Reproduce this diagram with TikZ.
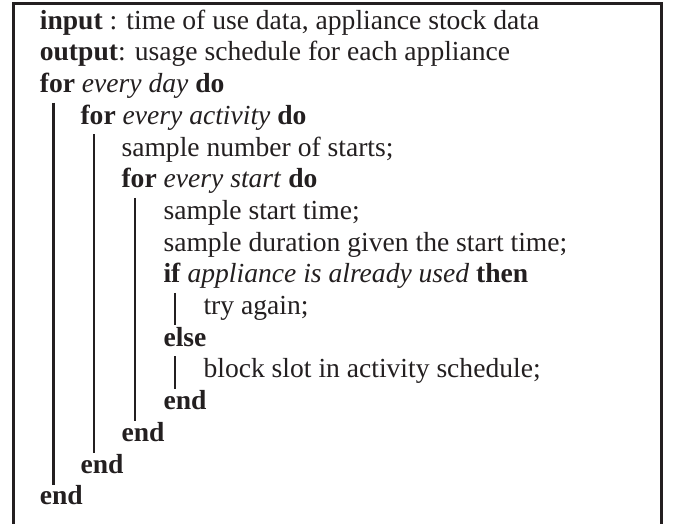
\documentclass[tikz,border=0pt]{standalone}
\usepackage{fontspec}
\setmainfont{Liberation Serif}
\usetikzlibrary{calc}
\definecolor{inkdark}{RGB}{35,31,32}
\tikzset{
  algline/.style = {anchor=base west, inner sep=0pt, text=inkdark, font=\fontsize{9.85pt}{12pt}\selectfont},
  % block bar: thin vertical rule left of an indented block
  alg_bar/.style = {draw=inkdark, line width=0.9pt},
  alg_frame/.style = {draw=inkdark, line width=1pt}
}
\begin{document}
\begin{tikzpicture}[x=0.3571pt,y=-0.3571pt]
    \useasboundingbox (0,0) rectangle (676,524);
    % Frame (open at the bottom):
    \draw[alg_frame] (13.3,524) |- (661.7,3.5) -- (661.7,524);
    % Header:
    \node[algline] (kin)  at (39.3,29.3)  {\textbf{input} : time of use data, appliance stock data};
    \node[algline] (kout) at (39.3,61.0)  {\textbf{output}: usage schedule for each appliance};
    % Loop over days:
    \node[algline] (day)  at (39.3,92.7)  {\textbf{for} \textit{every day} \textbf{do}};
    % Loop over activities:
    \node[algline] (act)  at (80.0,124.4) {\textbf{for} \textit{every activity} \textbf{do}};
    \node[algline] (nst)  at (121.0,156.1) {sample number of starts;};
    % Loop over starts:
    \node[algline] (st)   at (121.0,187.8) {\textbf{for} \textit{every start} \textbf{do}};
    \node[algline] (stt)  at (163.0,219.5) {sample start time;};
    \node[algline] (dur)  at (163.0,251.2) {sample duration given the start time;};
    \node[algline] (ifu)  at (163.0,282.9) {\textbf{if} \textit{appliance is already used} \textbf{then}};
    \node[algline] (try)  at (203.0,314.6) {try again;};
    \node[algline] (els)  at (163.0,346.3) {\textbf{else}};
    \node[algline] (blk)  at (203.0,378.0) {block slot in activity schedule;};
    \node[algline] (endif)  at (163.0,409.7) {\textbf{end}};
    \node[algline] (endst)  at (121.0,441.4) {\textbf{end}};
    \node[algline] (endact) at (80.0,473.1)  {\textbf{end}};
    \node[algline] (endday) at (39.3,504.8)  {\textbf{end}};
    % Block bars:
    \draw[alg_bar] ($(day.base west)+(14,10)$) -- ($(endday.base west)+(14,-20)$);
    \draw[alg_bar] ($(act.base west)+(14,10)$) -- ($(endact.base west)+(14,-20)$);
    \draw[alg_bar] ($(st.base west)+(14,10)$) -- ($(endst.base west)+(14,-20)$);
    \draw[alg_bar] ($(ifu.base west)+(12,10)$) -- ($(els.base west)+(12,-21)$);
    \draw[alg_bar] ($(els.base west)+(12,10)$) -- ($(endif.base west)+(12,-21)$);
\end{tikzpicture}
\end{document}
